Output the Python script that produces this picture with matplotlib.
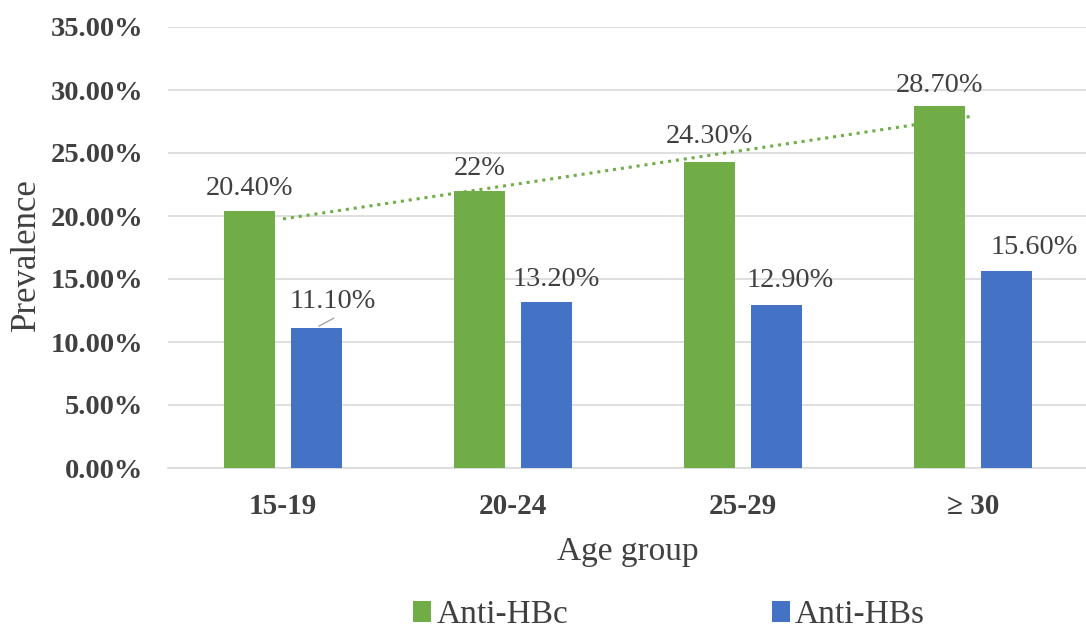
import matplotlib
matplotlib.use("Agg")
import matplotlib.pyplot as plt
import numpy as np
from matplotlib.ticker import FuncFormatter, MultipleLocator

categories = ["15-19", "20-24", "25-29", "\u2265 30"]
anti_hbc = [20.4, 22.0, 24.3, 28.7]
anti_hbs = [11.1, 13.2, 12.9, 15.6]
hbc_labels = ["20.40%", "22%", "24.30%", "28.70%"]
hbs_labels = ["11.10%", "13.20%", "12.90%", "15.60%"]

plt.rcParams['font.family'] = ['Liberation Serif', 'DejaVu Serif']
TXT = "#404040"
GREEN = "#70AD47"
BLUE = "#4472C4"

fig = plt.figure(figsize=(10.86, 6.29), dpi=100)
ax = fig.add_axes([168/1086, 1-468/629, 920/1086, (468-27)/629])

x = np.arange(len(categories))
w = 0.222
off = 0.145
ax.bar(x - off, anti_hbc, w, color=GREEN, label="Anti-HBc", zorder=3)
ax.bar(x + off, anti_hbs, w, color=BLUE, label="Anti-HBs", zorder=3)

# linear trendline for Anti-HBc
coef = np.polyfit(x, anti_hbc, 1)
xt = np.array([x[0], x[-1]])
ax.plot(xt, np.polyval(coef, xt), linestyle=(0, (1, 1.6)), color=GREEN, lw=2.2, zorder=4)

ax.set_xlim(-0.5, len(categories) - 0.5)
ax.set_ylim(0, 35)
ax.yaxis.set_major_locator(MultipleLocator(5))
ax.yaxis.set_major_formatter(FuncFormatter(lambda v, p: f"{v:.2f}%"))
ax.grid(axis='y', color="#D9D9D9", lw=1.2, zorder=0)
for s in ["top", "right", "left"]:
    ax.spines[s].set_visible(False)
ax.spines["bottom"].set_color("#D9D9D9")
ax.spines["bottom"].set_linewidth(1.2)
ax.tick_params(axis='both', length=0, colors=TXT, labelsize=20.5)
ax.tick_params(axis='y', pad=18)
ax.tick_params(axis='x', pad=18, labelsize=21)
ax.set_xticks(x)
ax.set_xticklabels(categories, fontweight='bold')
for t in ax.get_yticklabels():
    t.set_fontweight('bold')

ax.set_ylabel("Prevalence", fontsize=25, color=TXT)
ax.yaxis.set_label_coords((43 - 168) / 920, 0.483)
ax.set_xlabel("Age group", fontsize=24, color=TXT, labelpad=12)

# data labels (offsets in points)
hbc_off = [(0, 16.5), (0, 16), (0, 18), (0, 15)]
hbs_off = [(11.5, 19), (7, 16), (10, 18), (20, 17)]
for i, (v, lab) in enumerate(zip(anti_hbc, hbc_labels)):
    ax.annotate(lab, (x[i] - off, v), xytext=hbc_off[i], textcoords='offset points',
                ha='center', va='center', fontsize=20.3, color=TXT, zorder=5)
for i, (v, lab) in enumerate(zip(anti_hbs, hbs_labels)):
    ax.annotate(lab, (x[i] + off, v), xytext=hbs_off[i], textcoords='offset points',
                ha='center', va='center', fontsize=20.3, color=TXT, zorder=5)
# leader line for 11.10%
ax.annotate("", (x[0] + off, anti_hbs[0] + 0.05), xytext=(x[0] + off + 0.087, anti_hbs[0] + 0.9),
            arrowprops=dict(arrowstyle='-', color="#A6A6A6", lw=1), zorder=5)

leg = fig.legend(loc='center', bbox_to_anchor=(669 / 1086, 1 - 615/629), ncol=2, frameon=False,
                 fontsize=24, handlelength=0.55, handleheight=0.55, handletextpad=0.15,
                 columnspacing=6.1, labelcolor=TXT)

fig.savefig("out.png", dpi=100)
